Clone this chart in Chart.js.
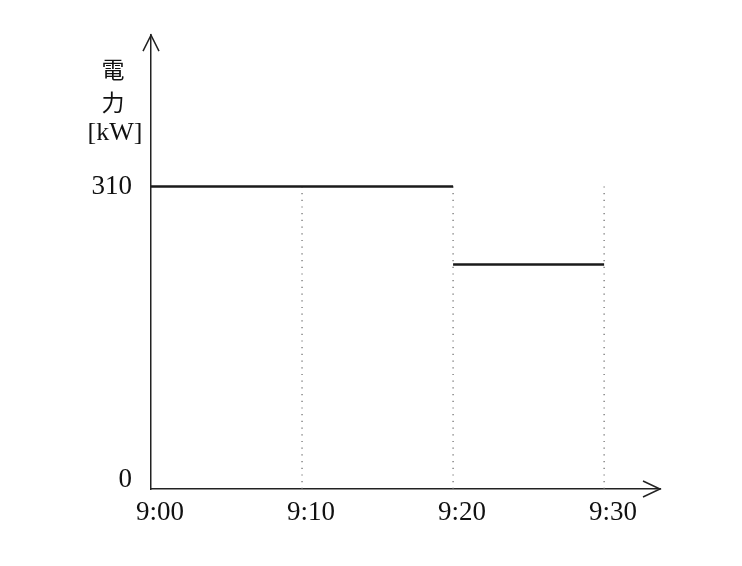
<!DOCTYPE html>
<html>
<head>
<meta charset="utf-8">
<script src="https://cdn.jsdelivr.net/npm/chart.js@4/dist/chart.umd.min.js"></script>
<style>
  body { margin: 0; background: #fff; }
</style>
</head>
<body>
<canvas id="myChart" width="742" height="566"></canvas>
<script>
// minutes after 9:00
const timeTicks = [0, 10, 20, 30]
const timeLabels = ['9:00', '9:10', '9:20', '9:30']
const powerTicks = [0, 310]

const firstMinutes = [0, 20]
const firstPower = [310, 310]
const secondMinutes = [20, 30]
const secondPower = [230, 230]
const guideMinutes = [10, 20, 30]

const serif = '"Liberation Serif", "Noto Sans CJK JP", serif'

const toPoints = (xs, ys) => xs.map((x, i) => ({ x: x, y: ys[i] }))

const datasets = [
    { data: toPoints(firstMinutes, firstPower), borderColor: '#1a1a1a', borderWidth: 2.5 },
    { data: toPoints(secondMinutes, secondPower), borderColor: '#1a1a1a', borderWidth: 2.5 }
]
guideMinutes.forEach((m) => {
    datasets.push({
        data: toPoints([m, m], [0, powerTicks[1]]),
        borderColor: '#666',
        borderWidth: 1.2,
        borderDash: [1.2, 5.5]
    })
})

// arrow heads on the axes and the y title
const axisArrows = {
    id: 'axisArrows',
    afterDraw(chart) {
        const { ctx, chartArea: a } = chart
        ctx.save()
        ctx.strokeStyle = '#222'
        ctx.lineWidth = 1.5
        ctx.beginPath()
        ctx.moveTo(a.left - 8, a.top + 16)
        ctx.lineTo(a.left, a.top)
        ctx.lineTo(a.left + 8, a.top + 16)
        ctx.moveTo(a.right - 17, a.bottom - 8)
        ctx.lineTo(a.right, a.bottom)
        ctx.lineTo(a.right - 17, a.bottom + 8)
        ctx.stroke()

        ctx.fillStyle = '#111'
        ctx.textAlign = 'center'
        ctx.textBaseline = 'middle'
        ctx.font = '23px "Noto Sans CJK JP"'
        ctx.fillText('電', 113, 69)
        ctx.fillText('力', 113, 102)
        ctx.font = '26px ' + serif
        ctx.fillText('[kW]', 115, 133)
        ctx.restore()
    }
}

const ctx = document.getElementById('myChart')
const myChart = new Chart(ctx, {
    type: 'line',
    data: { datasets },
    plugins: [axisArrows],
    options: {
        responsive: false,
        animation: false,
        layout: { padding: { left: 0, right: 82, top: 33, bottom: 0 } },
        elements: { point: { radius: 0 }, line: { tension: 0 } },
        plugins: { legend: { display: false }, tooltip: { enabled: false } },
        scales: {
            x: {
                type: 'linear',
                min: 0,
                max: 33.7,
                afterBuildTicks: (scale) => { scale.ticks = timeTicks.map((v) => ({ value: v })) },
                afterFit: (scale) => { scale.height = 77 },
                grid: { display: false, drawTicks: false },
                border: { display: true, color: '#222', width: 1.5 },
                ticks: {
                    padding: 8,
                    labelOffset: 9,
                    maxRotation: 0,
                    color: '#111',
                    font: { family: serif, size: 27 },
                    callback: (value, index) => timeLabels[index]
                }
            },
            y: {
                min: 0,
                max: 465,
                afterBuildTicks: (scale) => { scale.ticks = powerTicks.map((v) => ({ value: v })) },
                afterFit: (scale) => { scale.width = 151 },
                grid: { display: false, drawTicks: false },
                border: { display: true, color: '#222', width: 1.5 },
                ticks: {
                    padding: 19,
                    color: '#111',
                    font: (c) => ({ family: serif, size: 27, lineHeight: c.tick && c.tick.value === 0 ? 0.7 : 1.2 }),
                    callback: (value) => value === 0 ? ['0', ''] : String(value)
                }
            }
        }
    }
})
</script>
</body>
</html>
